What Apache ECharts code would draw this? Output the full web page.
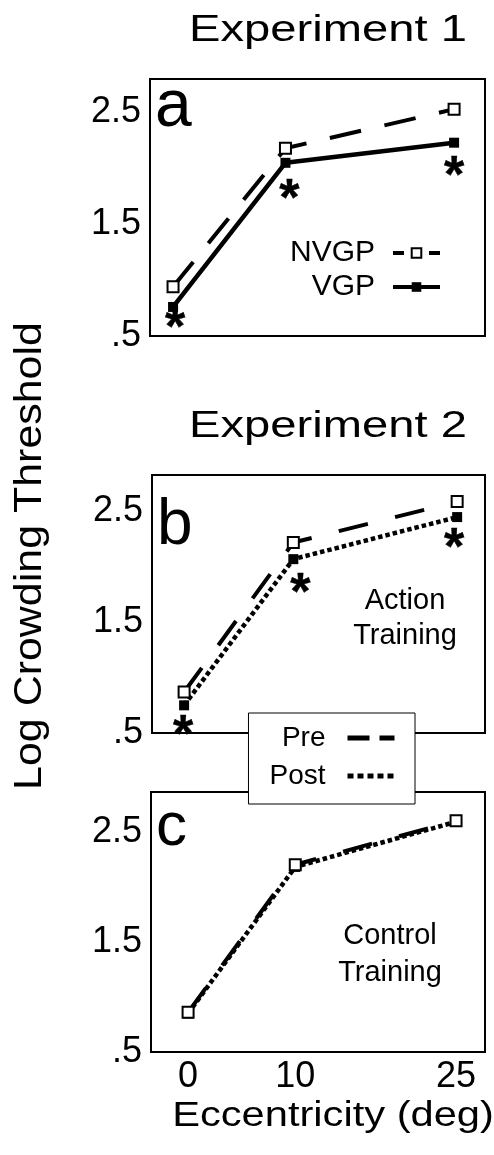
<!DOCTYPE html>
<html>
<head>
<meta charset="utf-8">
<script src="https://cdn.jsdelivr.net/npm/echarts@6/dist/echarts.min.js"></script>
<style>
html, body { margin: 0; padding: 0; background: #fff; }
#chart { width: 494px; height: 1155px; }
</style>
</head>
<body>
<div id="chart"></div>
<script>
// eccentricity (deg) and log crowding thresholds
var ecc = [0, 10, 25];
var exp1Nvgp = [0.94, 2.18, 2.53];
var exp1Vgp = [0.76, 2.05, 2.23];
var actionPre = [0.87, 2.22, 2.59];
var actionPost = [0.75, 2.07, 2.45];
var controlPre = [0.86, 2.20, 2.60];
var controlPost = [0.85, 2.18, 2.59];
// significance stars (under the VGP / post points)
var exp1Sig = [1, 1, 1];
var actionSig = [1, 1, 1];
var yTicks = [0.5, 1.5, 2.5];
var xTicks = [0, 10, 25];

var FONT = '"Liberation Sans", Arial, sans-serif';
var STAR_SIZE = 52;
// star glyph offsets from the point, px
var starOffA = [[2, 10], [4, 25], [0, 22]];
var starOffB = [[-1, 18], [7, 23], [-3, 20]];

function pts(ys) {
    return ecc.map(function (x, i) { return [x, ys[i]]; });
}

function stars(ys, sig, offs, idx) {
    var d = [];
    for (var i = 0; i < ys.length; i++) {
        if (!sig[i]) continue;
        d.push({
            value: [ecc[i], ys[i]],
            label: { offset: [offs[i][0], offs[i][1] + STAR_SIZE * 0.25] }
        });
    }
    return {
        type: 'scatter', xAxisIndex: idx, yAxisIndex: idx, silent: true,
        symbolSize: 1, itemStyle: { color: '#000', opacity: 1 }, z: 5,
        label: {
            show: true, position: 'inside', formatter: '*', fontSize: STAR_SIZE, fontWeight: 'bold',
            fontFamily: FONT, color: '#000', opacity: 1, textBorderColor: '#000', textBorderWidth: 0.4
        },
        data: d
    };
}

function dashed(name, ys, idx, dash) {
    return {
        name: name, type: 'line', xAxisIndex: idx, yAxisIndex: idx,
        data: pts(ys), symbol: 'emptyRect', symbolSize: 11,
        lineStyle: { color: '#000', width: 4, type: dash },
        itemStyle: { color: '#000', borderWidth: 2 }, z: 3
    };
}

function solid(name, ys, idx, dotted) {
    return {
        name: name, type: 'line', xAxisIndex: idx, yAxisIndex: idx,
        data: pts(ys), symbol: 'rect', symbolSize: 10,
        lineStyle: { color: '#000', width: 4.5, type: dotted ? [4.5, 3] : 'solid' },
        itemStyle: { color: '#000' }, z: 2
    };
}

var grids = [
    { left: 150, top: 79, width: 335, height: 257 },
    { left: 152, top: 475, width: 333, height: 258 },
    { left: 151, top: 792, width: 334, height: 260 }
];
var xRange = [[-2.05, 27.75], [-2.94, 27.55], [-3.46, 27.7]];
var yMax = [2.8, 2.83, 2.86];

var chart = echarts.init(document.getElementById('chart'));

var option = {
    backgroundColor: '#fff',
    animation: false,
    grid: grids.map(function (g) {
        return { left: g.left, top: g.top, width: g.width, height: g.height, show: true, borderColor: '#000', borderWidth: 2, backgroundColor: 'rgba(0,0,0,0)' };
    }),
    xAxis: [0, 1, 2].map(function (i) {
        return {
            type: 'value', gridIndex: i, min: xRange[i][0], max: xRange[i][1],
            axisLine: { show: false }, axisTick: { show: false }, splitLine: { show: false },
            axisLabel: { show: i === 2, customValues: xTicks, fontSize: 36, fontFamily: FONT, color: '#000', margin: 7 }
        };
    }),
    yAxis: [0, 1, 2].map(function (i) {
        return {
            type: 'value', gridIndex: i, min: 0.5, max: yMax[i],
            axisLine: { show: false }, axisTick: { show: false }, splitLine: { show: false },
            axisLabel: {
                customValues: yTicks, fontSize: 36, fontFamily: FONT, color: '#000', margin: 9,
                formatter: function (v) { return v === 0.5 ? '.5' : String(v); }
            }
        };
    }),
    legend: [
        {
            data: [
                { name: 'NVGP', lineStyle: { width: 4, type: [11, 25] } },
                { name: 'VGP', lineStyle: { width: 4, type: 'solid' } }
            ],
            orient: 'vertical', align: 'right',
            right: 52, top: 238, padding: 0, itemWidth: 47, itemHeight: 12, itemGap: 4,
            selectedMode: false,
            textStyle: { fontSize: 30, fontFamily: FONT, color: '#000', padding: [0, 13, 0, 0] }
        },
        {
            data: [
                { name: 'Pre', itemStyle: { opacity: 0 }, lineStyle: { width: 5, type: [22, 10] } },
                { name: 'Post', itemStyle: { opacity: 0 }, lineStyle: { width: 5, type: [6, 4] } }
            ],
            orient: 'vertical', align: 'right',
            right: 79, top: 713, padding: [11, 18, 14, 21], itemWidth: 47, itemHeight: 11, itemGap: 10,
            backgroundColor: '#fff', borderColor: '#000', borderWidth: 1,
            selectedMode: false,
            textStyle: { fontSize: 28, fontFamily: FONT, color: '#000', padding: [0, 17, 0, 0] }
        }
    ],
    graphic: [
        { type: 'text', x: 328, y: 31, scaleX: 1.31, style: { text: 'Experiment 1', font: '36px ' + FONT, fill: '#000', textAlign: 'center', textVerticalAlign: 'middle' } },
        { type: 'text', x: 328, y: 427, scaleX: 1.31, style: { text: 'Experiment 2', font: '36px ' + FONT, fill: '#000', textAlign: 'center', textVerticalAlign: 'middle' } },
        { type: 'text', x: 333, y: 1116, scaleX: 1.19, style: { text: 'Eccentricity (deg)', font: '35px ' + FONT, fill: '#000', textAlign: 'center', textVerticalAlign: 'middle' } },
        { type: 'text', x: 31, y: 556, rotation: Math.PI / 2, scaleX: 1.13, style: { text: 'Log Crowding Threshold', font: '38px ' + FONT, fill: '#000', textAlign: 'center', textVerticalAlign: 'middle' } },
        { type: 'text', x: 155, y: 108, style: { text: 'a', font: '66px ' + FONT, fill: '#000', textAlign: 'left', textVerticalAlign: 'middle' } },
        { type: 'text', x: 157, y: 526, style: { text: 'b', font: '64px ' + FONT, fill: '#000', textAlign: 'left', textVerticalAlign: 'middle' } },
        { type: 'text', x: 156, y: 828, style: { text: 'c', font: '62px ' + FONT, fill: '#000', textAlign: 'left', textVerticalAlign: 'middle' } },
        { type: 'text', x: 405, y: 618, style: { text: 'Action\nTraining', font: '29px ' + FONT, lineHeight: 35, fill: '#000', textAlign: 'center', textVerticalAlign: 'middle' } },
        { type: 'text', x: 390, y: 954, style: { text: 'Control\nTraining', font: '29px ' + FONT, lineHeight: 37, fill: '#000', textAlign: 'center', textVerticalAlign: 'middle' } }
    ],
    series: [
        dashed('NVGP', exp1Nvgp, 0, [32, 24]),
        solid('VGP', exp1Vgp, 0, false),
        stars(exp1Vgp, exp1Sig, starOffA, 0),
        dashed('Pre', actionPre, 1, [30, 28]),
        solid('Post', actionPost, 1, true),
        stars(actionPost, actionSig, starOffB, 1),
        solid('Post', controlPost, 2, true),
        dashed('Pre', controlPre, 2, [30, 28])
    ]
};

chart.setOption(option);
</script>
</body>
</html>
